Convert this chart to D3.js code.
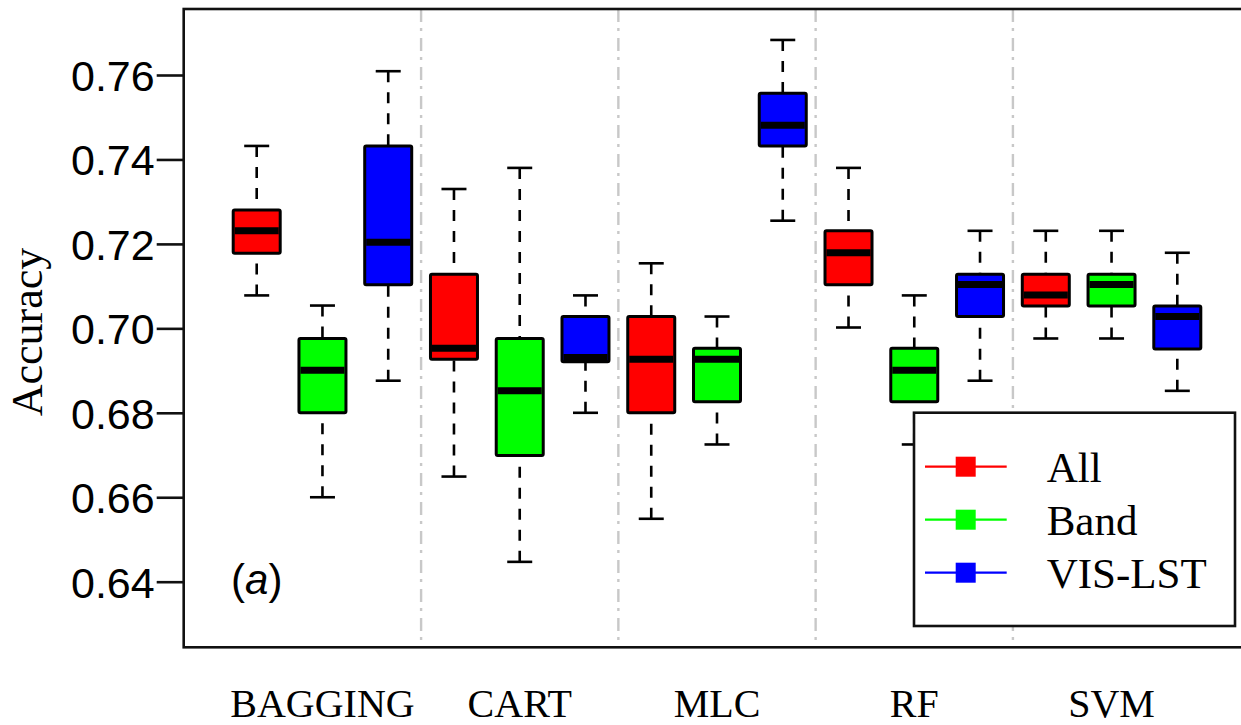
<!DOCTYPE html>
<html>
<head>
<meta charset="utf-8">
<script src="https://cdn.jsdelivr.net/npm/d3@7"></script>
<style>
  html, body { margin: 0; padding: 0; background: #fff; }
  svg { display: block; }
</style>
</head>
<body>
<svg id="chart" width="1241" height="725"></svg>
<script>
// ---- data ----
const categories = ["BAGGING", "CART", "MLC", "RF", "SVM"];
const seriesNames = ["All", "Band", "VIS-LST"];
const seriesColors = ["#ff0000", "#00ff00", "#0000ff"];
// [lower whisker, Q1, median, Q3, upper whisker] per category
const allStats = [
  [0.7078, 0.7178, 0.7231, 0.7280, 0.7432],
  [0.6649, 0.6927, 0.6953, 0.7128, 0.7330],
  [0.6549, 0.6800, 0.6927, 0.7028, 0.7154],
  [0.7002, 0.7103, 0.7179, 0.7231, 0.7380],
  [0.6976, 0.7053, 0.7079, 0.7128, 0.7231]
];
const bandStats = [
  [0.6600, 0.6800, 0.6901, 0.6976, 0.7054],
  [0.6447, 0.6699, 0.6852, 0.6976, 0.7380],
  [0.6725, 0.6826, 0.6927, 0.6953, 0.7028],
  [0.6725, 0.6826, 0.6901, 0.6953, 0.7078],
  [0.6976, 0.7053, 0.7104, 0.7128, 0.7231]
];
const visStats = [
  [0.6876, 0.7103, 0.7204, 0.7432, 0.7609],
  [0.6800, 0.6921, 0.6931, 0.7028, 0.7078],
  [0.7255, 0.7432, 0.7481, 0.7557, 0.7683],
  [0.6876, 0.7028, 0.7104, 0.7128, 0.7231],
  [0.6852, 0.6951, 0.7028, 0.7053, 0.7179]
];
const yTicks = [0.64, 0.66, 0.68, 0.70, 0.72, 0.74, 0.76];
const yLabel = "Accuracy";
const panelLabel = "a";

// ---- layout ----
const svg = d3.select("#chart");
const plot = { left: 183.7, top: 9, bottom: 647.3, right: 1250 };
const x = d3.scaleLinear().domain([1, 15]).range([256.7, 1177.3]);
const y = d3.scaleLinear().domain([0.64, 0.76]).range([581.7, 75]);
const boxW = 47, capW = 25;
const serif = "'Liberation Serif', 'Times New Roman', serif";
const sans = "'Liberation Sans', Arial, sans-serif";

// group dividers
const dividers = d3.range(1, categories.length).map(i => i * 3 + 0.5);
svg.append("g").selectAll("line").data(dividers).join("line")
  .attr("x1", d => x(d)).attr("x2", d => x(d))
  .attr("y1", plot.top).attr("y2", plot.bottom)
  .attr("stroke", "#c8c8c8").attr("stroke-width", 2.4)
  .attr("stroke-dasharray", "13,6,3,7");

// boxes
const statsBySeries = [allStats, bandStats, visStats];
const boxes = [];
categories.forEach((c, ci) => {
  statsBySeries.forEach((st, si) => {
    boxes.push({ pos: ci * 3 + si + 1, s: st[ci], color: seriesColors[si] });
  });
});

const g = svg.append("g");
const bg = g.selectAll("g.box").data(boxes).join("g").attr("class", "box");
// whiskers (drawn from the cap toward the box)
bg.append("line")
  .attr("x1", d => x(d.pos)).attr("x2", d => x(d.pos))
  .attr("y1", d => y(d.s[4])).attr("y2", d => y(d.s[3]))
  .attr("stroke", "#000").attr("stroke-width", 2.6).attr("stroke-dasharray", "11,10");
bg.append("line")
  .attr("x1", d => x(d.pos)).attr("x2", d => x(d.pos))
  .attr("y1", d => y(d.s[0])).attr("y2", d => y(d.s[1]))
  .attr("stroke", "#000").attr("stroke-width", 2.6).attr("stroke-dasharray", "11,10");
// caps
[0, 4].forEach(k => {
  bg.append("line")
    .attr("x1", d => x(d.pos) - capW / 2).attr("x2", d => x(d.pos) + capW / 2)
    .attr("y1", d => y(d.s[k])).attr("y2", d => y(d.s[k]))
    .attr("stroke", "#000").attr("stroke-width", 2.6);
});
// box
bg.append("rect")
  .attr("x", d => x(d.pos) - boxW / 2).attr("width", boxW)
  .attr("y", d => y(d.s[3])).attr("height", d => y(d.s[1]) - y(d.s[3]))
  .attr("fill", d => d.color).attr("stroke", "#000").attr("stroke-width", 3)
  .attr("rx", 1.5);
// median
bg.append("line")
  .attr("x1", d => x(d.pos) - boxW / 2 + 1.5).attr("x2", d => x(d.pos) + boxW / 2 - 1.5)
  .attr("y1", d => y(d.s[2])).attr("y2", d => y(d.s[2]))
  .attr("stroke", "#000").attr("stroke-width", 7);

// frame
svg.append("rect")
  .attr("x", plot.left).attr("y", plot.top)
  .attr("width", plot.right - plot.left).attr("height", plot.bottom - plot.top)
  .attr("fill", "none").attr("stroke", "#111").attr("stroke-width", 2.6);

// y axis
const yAxis = d3.axisLeft(y).tickValues(yTicks).tickSize(27).tickPadding(2)
  .tickFormat(d3.format(".2f"));
const ya = svg.append("g").attr("transform", `translate(${plot.left},0)`).call(yAxis);
ya.select(".domain").remove();
ya.selectAll(".tick line").attr("stroke", "#111").attr("stroke-width", 2.6);
ya.selectAll(".tick text").attr("font-family", sans).attr("font-size", 43)
  .attr("fill", "#000").attr("dy", "0.36em");

// y label
svg.append("text")
  .attr("transform", `translate(42,332) rotate(-90)`)
  .attr("text-anchor", "middle")
  .attr("font-family", serif).attr("font-size", 44).attr("fill", "#000")
  .text(yLabel);

// category labels
svg.append("g").selectAll("text").data(categories).join("text")
  .attr("x", (d, i) => x(i * 3 + 2)).attr("y", 716.5)
  .attr("text-anchor", "middle")
  .attr("font-family", serif).attr("font-size", 40).attr("fill", "#000")
  .text(d => d);

// panel label (a)
const pl = svg.append("text")
  .attr("x", x(1)).attr("y", 594).attr("text-anchor", "middle")
  .attr("font-family", sans).attr("font-size", 42).attr("fill", "#000");
pl.append("tspan").text("(");
pl.append("tspan").attr("font-style", "italic").text(panelLabel);
pl.append("tspan").text(")");

// legend
const lg = svg.append("g");
lg.append("rect").attr("x", 914).attr("y", 412.7).attr("width", 321).attr("height", 213.3)
  .attr("fill", "#fff").attr("stroke", "#111").attr("stroke-width", 2.6);
const rowY = d3.scalePoint().domain(seriesNames).range([466.7, 572.7]);
const items = lg.selectAll("g.item").data(seriesNames).join("g").attr("class", "item")
  .attr("transform", d => `translate(0,${rowY(d)})`);
items.append("line").attr("x1", 925).attr("x2", 1006.7).attr("y1", 0).attr("y2", 0)
  .attr("stroke", (d, i) => seriesColors[i]).attr("stroke-width", 2.2);
items.append("rect").attr("x", 955.7).attr("y", -10).attr("width", 20).attr("height", 20)
  .attr("fill", (d, i) => seriesColors[i]);
items.append("text").attr("x", 1046.7).attr("y", 15)
  .attr("font-family", serif).attr("font-size", 43).attr("fill", "#000")
  .text(d => d);
</script>
</body>
</html>
